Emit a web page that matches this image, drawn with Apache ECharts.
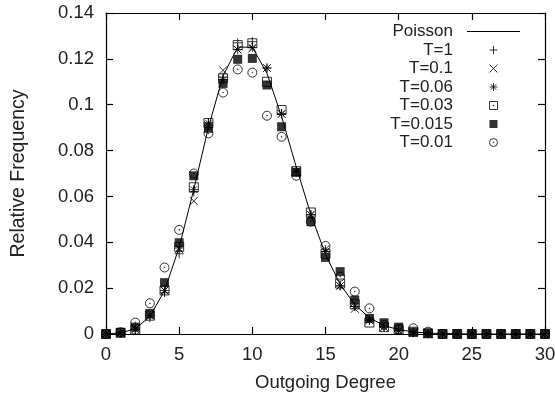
<!DOCTYPE html>
<html>
<head>
<meta charset="utf-8">
<script src="https://cdn.jsdelivr.net/npm/echarts@6/dist/echarts.min.js"></script>
<style>html,body{margin:0;padding:0;background:#fff}#c{width:555px;height:397px}</style>
</head>
<body>
<div id="c"></div>
<script>
var degrees = [];
for (var i = 0; i <= 30; i++) degrees.push(i);
var poisson = [0.00005,0.00045,0.0023,0.0076,0.0189,0.0378,0.0631,0.0901,0.1126,0.1251,0.1251,0.1137,0.0948,0.0729,0.0521,0.0347,0.0217,0.0128,0.0071,0.0037,0.0019,0.0009,0.0004,0.0002,0.0001,0,0,0,0,0,0];
var t1     = [0,0.0005,0.002,0.007,0.018,0.035,0.062,0.092,0.112,0.127,0.1275,0.116,0.096,0.071,0.052,0.036,0.021,0.012,0.006,0.003,0.0015,0.0006,0.0003,0,0,0,0,0,0,0,0];
var t01    = [0,0.0005,0.002,0.008,0.019,0.037,0.058,0.091,0.115,0.124,0.1245,0.116,0.096,0.071,0.052,0.037,0.021,0.011,0.006,0.003,0.0015,0.0006,0.0002,0,0,0,0,0,0,0,0];
var t006   = [0,0.0005,0.002,0.008,0.019,0.0375,0.063,0.092,0.111,0.124,0.125,0.116,0.096,0.071,0.052,0.036,0.021,0.012,0.006,0.003,0.0015,0.0007,0.0002,0,0,0,0,0,0,0,0];
var t003   = [0,0.0005,0.002,0.008,0.019,0.038,0.064,0.092,0.1115,0.126,0.1268,0.110,0.0977,0.071,0.053,0.035,0.022,0.013,0.005,0.003,0.002,0.001,0.0003,0,0,0,0,0,0,0,0];
var t0015  = [0,0.0007,0.003,0.009,0.0224,0.0398,0.069,0.0897,0.1093,0.1198,0.1202,0.1086,0.0904,0.0705,0.049,0.0334,0.0272,0.0148,0.0068,0.0049,0.003,0.0008,0.0003,0,0,0,0,0,0,0,0];
var t001   = [0,0.0008,0.005,0.0134,0.029,0.0454,0.070,0.0875,0.1053,0.1154,0.114,0.0952,0.086,0.069,0.049,0.0384,0.025,0.0185,0.0112,0.004,0.002,0.0025,0.001,0,0,0,0,0,0,0,0];
var seriesNames = ['Poisson','T=1','T=0.1','T=0.06','T=0.03','T=0.015','T=0.01'];
var xTicks = [0,5,10,15,20,25,30];
var yTicks = [0,0.02,0.04,0.06,0.08,0.1,0.12,0.14];

function pairs(arr){ return arr.map(function(v,i){ return [degrees[i], v]; }); }

var SYM = {
  line: 'path://M0,4.5L53,4.5L53,5.5L0,5.5Z',
  plus: 'path://M0,5L10,5M5,0L5,10',
  cross: 'path://M0,0L10,10M0,10L10,0',
  star: 'path://M0,5L10,5M5,0L5,10M1.5,1.5L8.5,8.5M1.5,8.5L8.5,1.5',
  sqdot: 'path://M0,0L10,0L10,10L0,10Z M4.6,4.6L5.4,4.6L5.4,5.4L4.6,5.4Z',
  square: 'path://M0,0L10,0L10,10L0,10Z',
  circdot: 'path://M10,5A5,5,0,1,1,0,5A5,5,0,1,1,10,5Z M5.4,5A0.4,0.4,0,1,1,4.6,5A0.4,0.4,0,1,1,5.4,5Z'
};
var FONT = 'Liberation Sans, Arial, Helvetica, sans-serif';
var TXT = '#222';
var openStyle = {color: 'none', borderColor: '#000', borderWidth: 1};
var fillStyle = {color: '#000', borderColor: '#000', borderWidth: 0};

function scat(name, data, sym, size, filled){
  return {
    name: name, type: 'scatter', data: pairs(data), symbol: sym, symbolSize: size,
    itemStyle: filled ? fillStyle : openStyle,
    emphasis: {disabled: true}, animation: false
  };
}

var legendData = [
  {name: 'Poisson', icon: SYM.line, itemStyle: {color: '#000', borderColor: '#000', borderWidth: 0}},
  {name: 'T=1', icon: SYM.plus, itemStyle: openStyle},
  {name: 'T=0.1', icon: SYM.cross, itemStyle: openStyle},
  {name: 'T=0.06', icon: SYM.star, itemStyle: openStyle},
  {name: 'T=0.03', icon: SYM.sqdot, itemStyle: openStyle},
  {name: 'T=0.015', icon: SYM.square, itemStyle: fillStyle},
  {name: 'T=0.01', icon: SYM.circdot, itemStyle: openStyle}
];

var chart = echarts.init(document.getElementById('c'), null, {renderer: 'canvas'});
var axLine = {show: true, onZero: false, lineStyle: {color: '#000', width: 1.2}};
var tickIn = {show: true, inside: true, length: 7, lineStyle: {color: '#000', width: 1.2}};
chart.setOption({
  animation: false,
  backgroundColor: '#fff',
  grid: {left: 106, right: 10, top: 13, bottom: 63, containLabel: false, outerBoundsMode: 'none'},
  xAxis: [
    {type: 'value', min: 0, max: 30, interval: 5, position: 'bottom',
     axisLine: axLine, axisTick: tickIn, splitLine: {show: false},
     axisLabel: {color: TXT, fontSize: 18.5, fontFamily: FONT, margin: 11,
       formatter: function(v){ return xTicks.indexOf(v) >= 0 ? String(v) : ''; }},
     name: 'Outgoing Degree', nameLocation: 'middle', nameGap: 39,
     nameTextStyle: {color: TXT, fontSize: 18.5, fontFamily: FONT}},
    {type: 'value', min: 0, max: 30, interval: 5, position: 'top',
     axisLine: axLine, axisTick: tickIn, splitLine: {show: false}, axisLabel: {show: false}}
  ],
  yAxis: [
    {type: 'value', min: 0, max: 0.14, interval: 0.02, position: 'left',
     axisLine: axLine, axisTick: tickIn, splitLine: {show: false},
     axisLabel: {color: TXT, fontSize: 18.5, fontFamily: FONT, margin: 12,
       formatter: function(v){ var r = Math.round(v*100)/100; return yTicks.indexOf(r) >= 0 ? String(r) : ''; }},
     name: 'Relative Frequency', nameLocation: 'middle', nameGap: 77, nameRotate: 90,
     nameTextStyle: {color: TXT, fontSize: 19.5, fontFamily: FONT}},
    {type: 'value', min: 0, max: 0.14, interval: 0.02, position: 'right',
     axisLine: axLine, axisTick: tickIn, splitLine: {show: false}, axisLabel: {show: false}}
  ],
  legend: {
    orient: 'vertical', left: 368, top: 18, itemWidth: 53, itemHeight: 8, itemGap: 1.5,
    data: legendData, selectedMode: false, align: 'right',
    formatter: function(n){ return '{a|' + n + '}'; },
    textStyle: {color: TXT, fontFamily: FONT, fontSize: 17,
      rich: {a: {width: 80, align: 'right', padding: [0, 9, 0, 0], fontSize: 17, lineHeight: 17, fontFamily: FONT, color: TXT}}}
  },
  series: [
    {name: 'Poisson', type: 'line', data: pairs(poisson), symbol: 'none',
     lineStyle: {color: '#000', width: 1}, itemStyle: {color: '#000'}, animation: false, z: 1},
    scat('T=1', t1, SYM.plus, 9, false),
    scat('T=0.1', t01, SYM.cross, 8, false),
    scat('T=0.06', t006, SYM.star, 9, false),
    scat('T=0.03', t003, SYM.sqdot, 9, false),
    scat('T=0.015', t0015, SYM.square, 9, true),
    scat('T=0.01', t001, SYM.circdot, 9, false)
  ]
});
</script>
</body>
</html>
